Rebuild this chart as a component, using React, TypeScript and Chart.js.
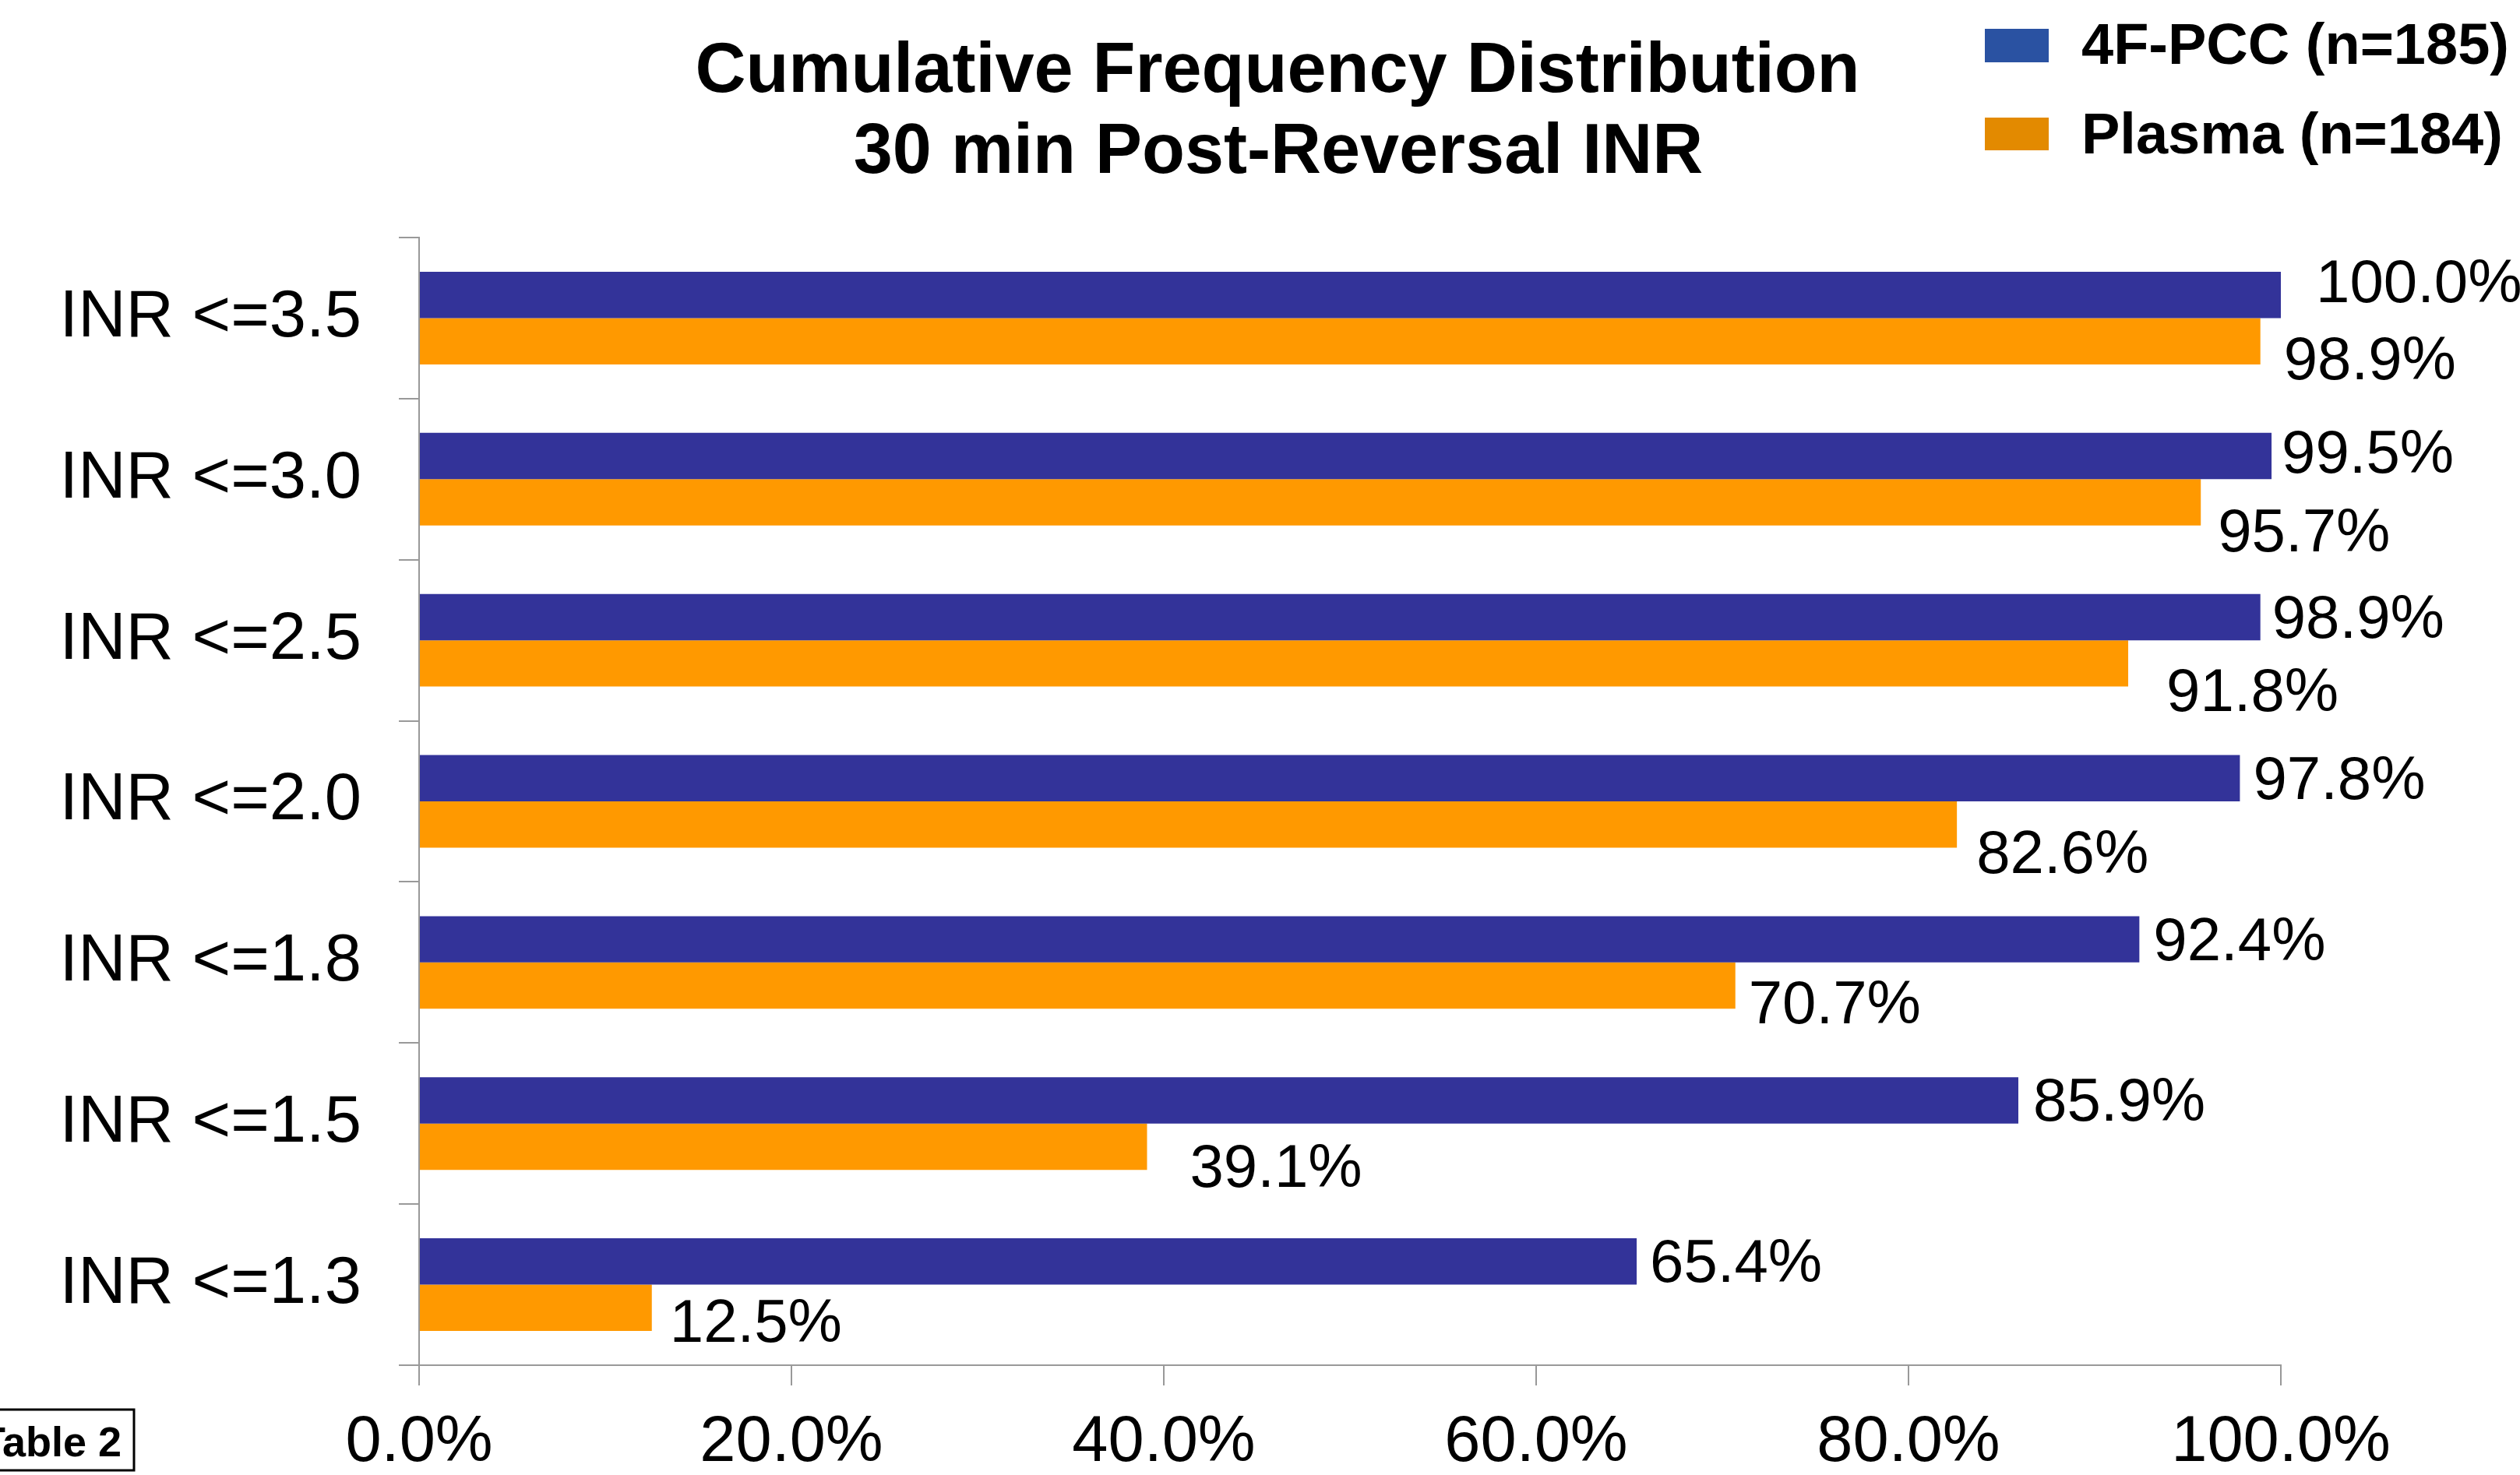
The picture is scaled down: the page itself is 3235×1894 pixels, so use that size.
import React, { useEffect, useRef } from 'react';
import { Chart, registerables } from 'chart.js';

Chart.register(...registerables);

// ---------- data ----------
const categories = ['INR <=3.5', 'INR <=3.0', 'INR <=2.5', 'INR <=2.0', 'INR <=1.8', 'INR <=1.5', 'INR <=1.3'];
const pccValues = [100.0, 99.5, 98.9, 97.8, 92.4, 85.9, 65.4];
const plasmaValues = [98.9, 95.7, 91.8, 82.6, 70.7, 39.1, 12.5];
const seriesNames = ['4F-PCC (n=185)', 'Plasma (n=184)'];
const xTickValues = [0, 20, 40, 60, 80, 100];
const titleLines = ['Cumulative Frequency Distribution', '30 min Post-Reversal INR'];
const footnoteText = 'Table 2';

// ---------- styling ----------
const FONT = '"Liberation Sans", Arial, Helvetica, sans-serif';
const barColors = ['#333399', '#FF9900'];
const legendColors = ['#2A52A2', '#E38A00'];
const axisColor = '#999999';

// hand-placed label nudges (pixels) as in the original slide
const labelNudges = [
  { dx: [45, 13, 15, 17, 18, 19, 17], dy: [-12, 0, 5, 5, 5, 5, 5] },
  { dx: [30, 22, 49, 25, 17, 55, 23], dy: [27, 41, 40, 41, 27, 30, 22] },
];

const overlayPlugin = {
  id: 'overlay',
  afterDatasetsDraw(chart: any) {
    const ctx = chart.ctx;
    ctx.save();
    ctx.fillStyle = '#000';
    ctx.font = `78px ${FONT}`;
    ctx.textAlign = 'left';
    ctx.textBaseline = 'middle';
    chart.data.datasets.forEach((ds: any, di: number) => {
      const meta = chart.getDatasetMeta(di);
      meta.data.forEach((bar: any, i: number) => {
        const v = ds.data[i] as number;
        const n = labelNudges[di];
        ctx.fillText(v.toFixed(1) + '%', bar.x + n.dx[i], bar.y + n.dy[i]);
      });
    });
    ctx.restore();
  },
  afterDraw(chart: any) {
    const ctx = chart.ctx;
    ctx.save();
    ctx.fillStyle = '#000';
    // title
    ctx.font = `bold 90px ${FONT}`;
    ctx.textAlign = 'center';
    ctx.textBaseline = 'alphabetic';
    ctx.fillText(titleLines[0], 1640, 118);
    ctx.fillText(titleLines[1], 1641, 222);
    // legend
    const rows = [
      { y: 37, h: 43, base: 82 },
      { y: 151, h: 42, base: 197 },
    ];
    ctx.font = `bold 74px ${FONT}`;
    ctx.textAlign = 'left';
    seriesNames.forEach((name, i) => {
      ctx.fillStyle = legendColors[i];
      ctx.fillRect(2548, rows[i].y, 82, rows[i].h);
      ctx.fillStyle = '#000';
      ctx.fillText(name, 2672, rows[i].base);
    });
    // footnote box
    ctx.strokeStyle = '#000';
    ctx.lineWidth = 3;
    ctx.strokeRect(-10, 1810, 182, 78);
    ctx.font = `bold 54px ${FONT}`;
    ctx.textAlign = 'right';
    ctx.fillText(footnoteText, 156, 1870);
    ctx.restore();
  },
};

export default function App() {
  const canvasRef = useRef<HTMLCanvasElement | null>(null);

  useEffect(() => {
    document.body.style.margin = '0';
    document.body.style.overflow = 'hidden';
    const canvas = canvasRef.current;
    if (!canvas) return;
    const chart = new Chart(canvas, {
      type: 'bar',
      data: {
        labels: categories,
        datasets: [
          {
            label: seriesNames[0],
            data: pccValues,
            backgroundColor: barColors[0],
            borderWidth: 0,
            categoryPercentage: 0.575,
            barPercentage: 1.0,
          },
          {
            label: seriesNames[1],
            data: plasmaValues,
            backgroundColor: barColors[1],
            borderWidth: 0,
            categoryPercentage: 0.575,
            barPercentage: 1.0,
          },
        ],
      },
      options: {
        indexAxis: 'y',
        responsive: false,
        animation: false,
        devicePixelRatio: 1,
        layout: { padding: { top: 305, right: 307, left: 0, bottom: 0 } },
        plugins: {
          legend: { display: false },
          title: { display: false },
          tooltip: { enabled: false },
        },
        scales: {
          x: {
            type: 'linear',
            position: 'bottom',
            min: xTickValues[0],
            max: xTickValues[xTickValues.length - 1],
            afterBuildTicks: (scale: any) => {
              scale.ticks = xTickValues.map((v) => ({ value: v }));
            },
            afterFit: (scale: any) => {
              scale.height = 141;
            },
            grid: {
              drawOnChartArea: false,
              drawTicks: true,
              tickLength: 26,
              color: axisColor,
              lineWidth: 2,
            },
            border: { color: axisColor, width: 2 },
            ticks: {
              autoSkip: false,
              maxRotation: 0,
              padding: 24,
              color: '#000',
              font: { family: FONT, size: 83 },
              callback: (v: any) => Number(v).toFixed(1) + '%',
            },
          },
          y: {
            type: 'category',
            position: 'left',
            afterFit: (scale: any) => {
              scale.width = 538;
            },
            grid: {
              offset: true,
              drawOnChartArea: false,
              drawTicks: true,
              tickLength: 26,
              color: axisColor,
              lineWidth: 2,
            },
            border: { color: axisColor, width: 2 },
            ticks: {
              autoSkip: false,
              padding: 48,
              color: '#000',
              font: { family: FONT, size: 85 },
            },
          },
        },
      },
      plugins: [overlayPlugin],
    } as any);
    return () => {
      chart.destroy();
    };
  }, []);

  return (
    <div style={{ width: 3235, height: 1894, background: '#fff' }}>
      <canvas ref={canvasRef} width={3235} height={1894} style={{ display: 'block' }} />
    </div>
  );
}
